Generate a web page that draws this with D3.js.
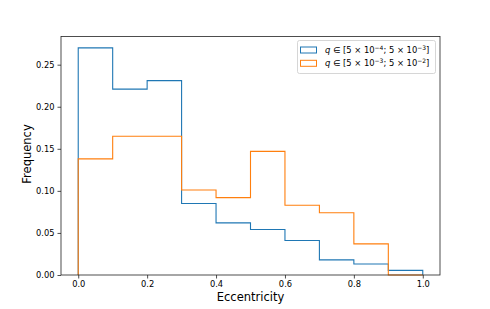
<!DOCTYPE html>
<html><head><meta charset="utf-8">
<script src="https://cdn.jsdelivr.net/npm/d3@7"></script>
<style>body{margin:0;background:#fff}svg{display:block}text{font-family:"DejaVu Sans",sans-serif}</style>
</head><body><svg id="c" width="490" height="309"></svg>
<script>
const binEdges = [0,0.1,0.2,0.3,0.4,0.5,0.6,0.7,0.8,0.9,1.0];
const seriesLow = [0.270,0.221,0.231,0.085,0.062,0.054,0.041,0.018,0.013,0.0055];
const seriesHigh = [0.138,0.165,0.165,0.101,0.092,0.147,0.083,0.074,0.037,0.0];
const xTicks = [0,0.2,0.4,0.6,0.8,1.0];
const yTicks = [0,0.05,0.10,0.15,0.20,0.25];
const colors = ["#1f77b4","#ff7f0e"];

const svg = d3.select("#c");
const L=61,R=440,T=36.5,B=275;
const x = d3.scaleLinear().domain([-0.05,1.05]).range([L,R]);
const y = d3.scaleLinear().domain([0,0.2835]).range([B,T]);

function stepPath(vals){
  const pts=[[binEdges[0],0]];
  vals.forEach((v,i)=>{pts.push([binEdges[i],v]);pts.push([binEdges[i+1],v]);});
  pts.push([binEdges[binEdges.length-1],0]);
  return d3.line().x(d=>x(d[0])).y(d=>y(d[1]))(pts);
}
[seriesLow,seriesHigh].forEach((s,i)=>{
  svg.append("path").attr("d",stepPath(s)).attr("fill","none").attr("stroke",colors[i]).attr("stroke-width",1.1);
});

const xa = svg.append("g").attr("transform",`translate(0,${B})`)
 .call(d3.axisBottom(x).tickValues(xTicks).tickFormat(d3.format(".1f")).tickSize(3.5).tickPadding(3));
const ya = svg.append("g").attr("transform",`translate(${L},0)`)
 .call(d3.axisLeft(y).tickValues(yTicks).tickFormat(d3.format(".2f")).tickSize(3.5).tickPadding(3));
[xa,ya].forEach(a=>{a.select(".domain").remove();a.selectAll("text").attr("font-size",8.3).attr("fill","#000").style("font-family","DejaVu Sans");a.selectAll("line").attr("stroke","#222").attr("stroke-width",0.8);});

svg.append("rect").attr("x",L).attr("y",T).attr("width",R-L).attr("height",B-T)
 .attr("fill","none").attr("stroke","#222").attr("stroke-width",0.8);

svg.append("text").attr("x",(L+R)/2).attr("y",300.5).attr("text-anchor","middle").attr("font-size",11.5).text("Eccentricity");
svg.append("text").attr("transform",`translate(31,154) rotate(-90)`).attr("text-anchor","middle").attr("font-size",11.5).text("Frequency");

// legend
const lg = svg.append("g");
lg.append("rect").attr("x",297.5).attr("y",40.5).attr("width",138).attr("height",33).attr("rx",2)
 .attr("fill","#fff").attr("fill-opacity",0.8).attr("stroke","#ccc").attr("stroke-width",0.8);
const labels=[["5","4","5","3"],["5","3","5","2"]];
labels.forEach((lb,i)=>{
  const cy = 50+ i*13.3;
  lg.append("rect").attr("x",300.5).attr("y",cy-3).attr("width",16).attr("height",6).attr("fill","none").attr("stroke",colors[i]).attr("stroke-width",1);
  const t = lg.append("text").attr("x",325).attr("y",cy+3).attr("font-size",8.4);
  t.append("tspan").attr("font-style","italic").text("q");
  t.append("tspan").text(` ∈ [${lb[0]} × 10`);
  t.append("tspan").attr("dy",-3.5).attr("font-size",6).text("−"+lb[1]);
  t.append("tspan").attr("dy",3.5).text(`; ${lb[2]} × 10`);
  t.append("tspan").attr("dy",-3.5).attr("font-size",6).text("−"+lb[3]);
  t.append("tspan").attr("dy",3.5).text("]");
});
</script></body></html>
